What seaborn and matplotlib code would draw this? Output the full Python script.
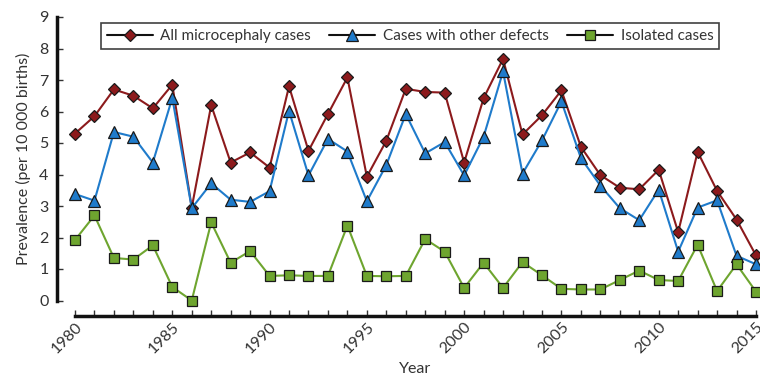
import matplotlib
matplotlib.use("Agg")
import matplotlib.pyplot as plt
import seaborn as sns
import pandas as pd
import numpy as np

years = list(range(1980, 2016))
all_cases = [5.3, 5.85, 6.7, 6.5, 6.1, 6.85, 2.95, 6.2, 4.38, 4.7, 4.22, 6.8, 4.75, 5.92, 7.08,
             3.93, 5.07, 6.72, 6.62, 6.6, 4.38, 6.42, 7.67, 5.27, 5.88, 6.67, 4.88, 3.98, 3.58,
             3.53, 4.15, 2.17, 4.72, 3.48, 2.57, 1.43]
other_defects = [3.38, 3.17, 5.35, 5.2, 4.38, 6.43, 2.93, 3.72, 3.2, 3.13, 3.47, 6.02, 3.97, 5.13,
                 4.73, 3.15, 4.3, 5.92, 4.67, 5.03, 3.97, 5.2, 7.27, 4.03, 5.08, 6.32, 4.52, 3.65,
                 2.93, 2.55, 3.52, 1.55, 2.95, 3.18, 1.42, 1.15]
isolated = [1.92, 2.7, 1.35, 1.3, 1.75, 0.43, 0.0, 2.48, 1.2, 1.57, 0.78, 0.8, 0.78, 0.78, 2.38,
            0.78, 0.77, 0.78, 1.95, 1.55, 0.4, 1.2, 0.4, 1.22, 0.8, 0.37, 0.35, 0.35, 0.65, 0.95,
            0.65, 0.62, 1.77, 0.3, 1.15, 0.28]
series_names = ["All microcephaly cases", "Cases with other defects", "Isolated cases"]
x_tick_labels = ["1980", "1985", "1990", "1995", "2000", "2005", "2010", "2015"]

sns.set_theme(style="white")
plt.rcParams["font.family"] = ["Lato", "DejaVu Sans"]
text_color = "#333333"

fig = plt.figure(figsize=(7.6, 3.77), dpi=100)
W, H = 760, 377
ax = fig.add_axes([75 / W, (H - 300.5) / H, (756 - 75) / W, (300.5 - 17) / H])

styles = [
    dict(color="#8c1a1c", marker="D", ms=6.5),
    dict(color="#1f7bcb", marker="^", ms=8.5),
    dict(color="#6ea52f", marker="s", ms=7.5),
]
data = [all_cases, other_defects, isolated]
for name, vals, st in zip(series_names, data, styles):
    df = pd.DataFrame({"Year": years, "val": vals})
    sns.lineplot(data=df, x="Year", y="val", ax=ax, color=st["color"], marker=st["marker"],
                 markersize=st["ms"], markerfacecolor=st["color"], markeredgecolor="#1a1a1a",
                 markeredgewidth=0.9, linewidth=1.5, label=name, clip_on=False)

# spines first (set_position resets ticks)
for s in ["top", "right"]:
    ax.spines[s].set_visible(False)
for s in ["left", "bottom"]:
    ax.spines[s].set_linewidth(2.5)
    ax.spines[s].set_color("#111111")
ax.spines["left"].set_position(("outward", 13))
ax.spines["bottom"].set_position(("outward", 11))

ax.set_xlim(1980, 2015)
ax.set_ylim(0, 9)
ax.set_xticks([int(t) for t in x_tick_labels])
ax.set_xticklabels(x_tick_labels)
ax.set_xticks(years, minor=True)
ax.set_yticks(range(0, 10))
ax.tick_params(axis="both", which="both", direction="in", length=4, width=1, color="#333333",
               labelsize=11.5, labelcolor=text_color, left=True, bottom=True)
ax.tick_params(axis="x", pad=3, labelrotation=45)
ax.tick_params(axis="y", pad=6)
for lbl in ax.get_xticklabels():
    lbl.set_ha("right")
    lbl.set_va("top")
    lbl.set_rotation_mode("anchor")

ax.set_xlabel("Year", fontsize=11.5, color=text_color, labelpad=4)
ax.set_ylabel("Prevalence (per 10 000 births)", fontsize=11.5, color=text_color, labelpad=6)

leg = ax.legend(loc="upper center", bbox_to_anchor=(0.492, 1.005), ncol=3, frameon=True,
                fancybox=False, edgecolor="#111111", fontsize=11, handlelength=3.0,
                columnspacing=1.2, borderpad=0.4, handletextpad=0.5)
leg.get_frame().set_linewidth(1.2)
for t in leg.get_texts():
    t.set_color(text_color)
for h in leg.legend_handles:
    h.set_color("#111111")
    h.set_markeredgecolor("#1a1a1a")

fig.savefig("out.png", dpi=100)
